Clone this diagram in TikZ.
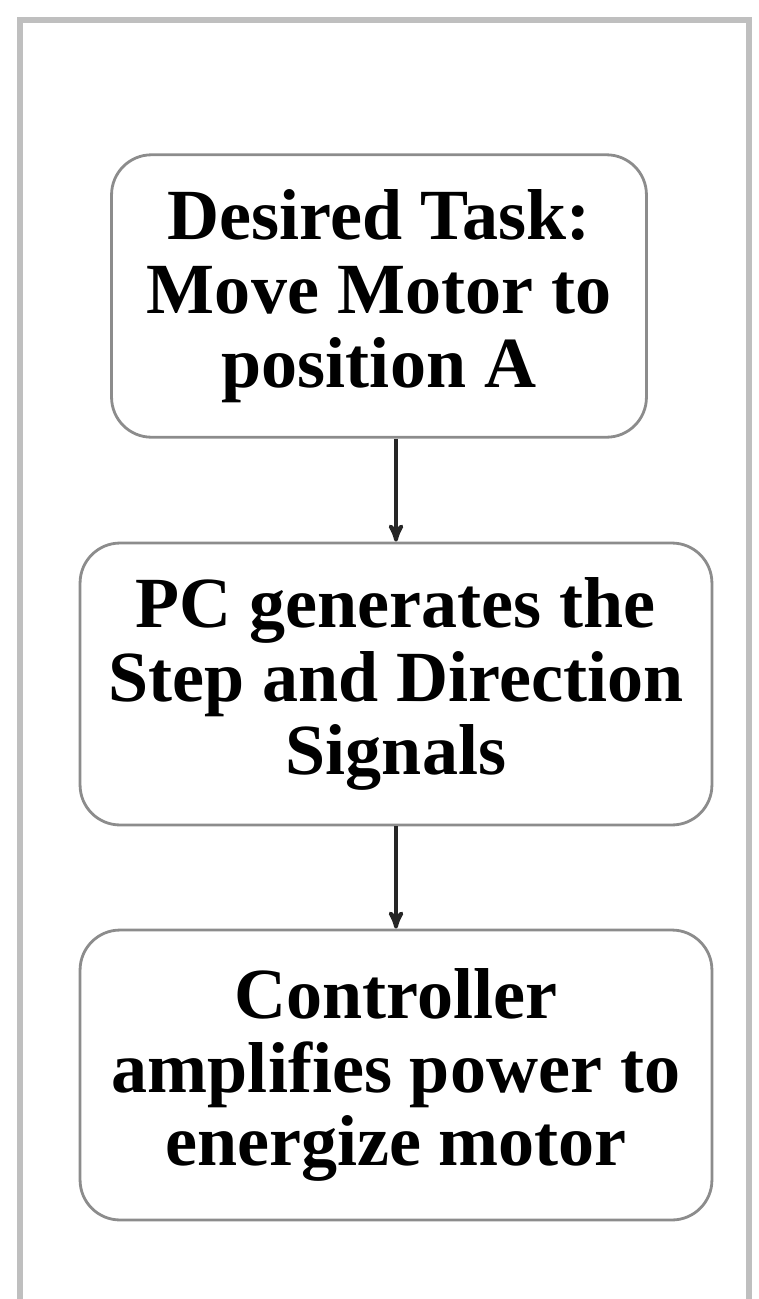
\documentclass[tikz,border=0pt]{standalone}
\usepackage{fontspec}
\setmainfont{Liberation Serif}
\usepackage{xcolor}
\colorlet{colorBox}{black!45}
\colorlet{colorFrame}{black!25}
\colorlet{colorArrow}{black!85}
\usepackage{tikz}
\usetikzlibrary{arrows, positioning}
\tikzset{stepbox/.style={draw=colorBox, line width=1.6pt, rounded corners=0.8cm, align=center, inner sep=0pt,
  font=\fontsize{41}{42}\selectfont\bfseries}}

\begin{document}
\begin{tikzpicture}[x=0.02cm, y=-0.02cm, >=stealth', thick]
\useasboundingbox (0,0) rectangle (759,1299);
\draw [colorFrame, line width=3pt] (20,1299) -- (20,20) -- (749,20) -- (749,1299);
\node[stepbox, minimum width=10.7cm, minimum height=5.65cm] (s1) at (379,296) {Desired Task:\\Move Motor to\\position A};
\node[stepbox, minimum width=12.64cm, minimum height=5.64cm] (s2) at (396,684) {PC generates the\\Step and Direction\\Signals};
\node[stepbox, minimum width=12.64cm, minimum height=5.8cm] (s3) at (396,1075) {Controller\\amplifies power to\\energize motor};
\draw [->, colorArrow, line width=2.2pt] (s1.south -| s2.north) -- (s2.north);
\draw [->, colorArrow, line width=2.2pt] (s2.south) -- (s3.north);
\end{tikzpicture}
\end{document}
